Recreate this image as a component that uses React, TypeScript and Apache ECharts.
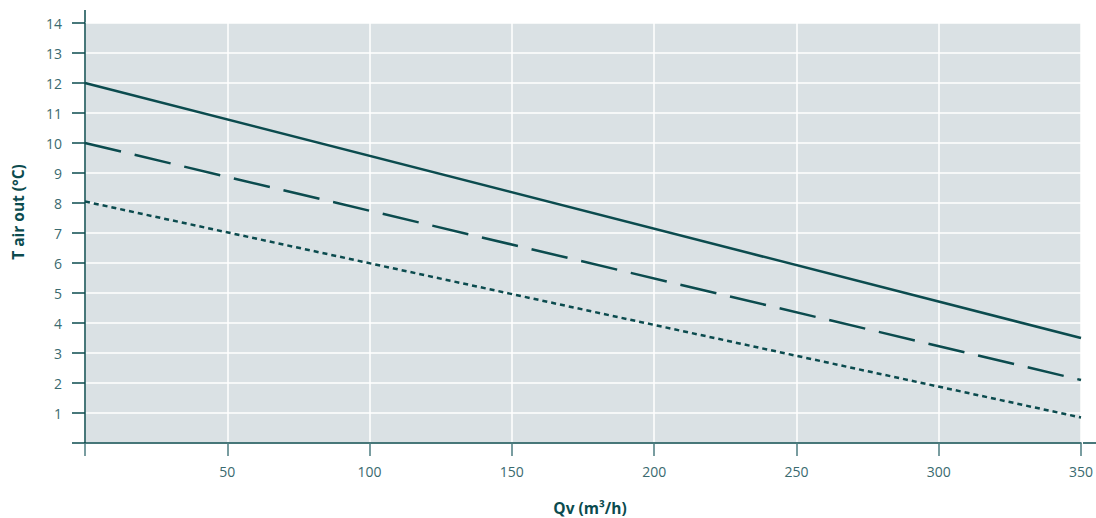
import React, { useEffect, useRef } from "react";
import * as echarts from "echarts";

const xValues = [0, 350];
const solidValues = [12, 3.5];
const dashedValues = [10, 2.1];
const dottedValues = [8.05, 0.85];
const xTicks = [0, 50, 100, 150, 200, 250, 300, 350];
const yTicks = [0, 1, 2, 3, 4, 5, 6, 7, 8, 9, 10, 11, 12, 13, 14];

const LINE = "#0b4b4e";
const TEXT = "#3a6a6f";
const FONT = "'Open Sans', 'Noto Sans', sans-serif";

export default function App() {
  const ref = useRef<HTMLDivElement>(null);
  useEffect(() => {
    if (!ref.current) return;
    const chart = echarts.init(ref.current, null, { renderer: "svg" });
    const mk = (vals: number[]) => xValues.map((x, i) => [x, vals[i]]);
    chart.setOption({
      animation: false,
      grid: {
        left: 85,
        right: 13,
        top: 23,
        bottom: 75,
        show: true,
        backgroundColor: "#dae1e4",
        borderWidth: 0,
      },
      xAxis: {
        type: "value",
        min: xTicks[0],
        max: xTicks[xTicks.length - 1],
        interval: 50,
        axisLine: { show: true, onZero: false, lineStyle: { color: LINE, width: 1.5 } },
        axisTick: { show: true, length: 13, lineStyle: { color: "#4d7c80", width: 1.5 } },
        axisLabel: {
          margin: 21,
          color: TEXT,
          fontFamily: FONT,
          fontSize: 14,
          formatter: (v: number) => (v === 0 ? "" : String(v)),
        },
        splitLine: { show: true, lineStyle: { color: "#ffffff", width: 1.5 } },
      },
      yAxis: {
        type: "value",
        min: yTicks[0],
        max: yTicks[yTicks.length - 1],
        interval: 1,
        axisLine: { show: true, onZero: false, lineStyle: { color: LINE, width: 1.5 } },
        axisTick: { show: true, length: 13, lineStyle: { color: LINE, width: 1.5 } },
        axisLabel: {
          margin: 23,
          color: TEXT,
          fontFamily: FONT,
          fontSize: 14,
          formatter: (v: number) => (v === 0 ? "" : String(v)),
        },
        splitLine: { show: true, lineStyle: { color: "#ffffff", width: 1.5 } },
      },
      graphic: [
        { type: "line", shape: { x1: 85, y1: 10, x2: 85, y2: 23 }, style: { stroke: LINE, lineWidth: 1.5 } },
        { type: "line", shape: { x1: 1083, y1: 443, x2: 1096, y2: 443 }, style: { stroke: LINE, lineWidth: 1.5 } },
        {
          type: "text",
          x: 18,
          y: 212,
          rotation: Math.PI / 2,
          style: {
            text: "T air out (°C)",
            fill: LINE,
            font: `bold 15.5px ${FONT}`,
            textAlign: "center",
            textVerticalAlign: "middle",
          },
        },
        {
          type: "text",
          x: 590,
          y: 508,
          style: {
            text: "Qv (m³/h)",
            fill: LINE,
            font: `bold 15.5px ${FONT}`,
            textAlign: "center",
            textVerticalAlign: "middle",
          },
        },
      ],
      series: [
        {
          type: "line",
          data: mk(solidValues),
          symbol: "none",
          lineStyle: { color: LINE, width: 2.5 },
        },
        {
          type: "line",
          data: mk(dashedValues),
          symbol: "none",
          lineStyle: { color: LINE, width: 2.5, type: [37, 14] },
        },
        {
          type: "line",
          data: mk(dottedValues),
          symbol: "none",
          lineStyle: { color: LINE, width: 2.5, type: [5, 4] },
        },
      ],
    });
    return () => chart.dispose();
  }, []);
  return (
    <div
      ref={ref}
      style={{ position: "absolute", left: 0, top: 0, width: 1096, height: 518, background: "#ffffff" }}
    />
  );
}
